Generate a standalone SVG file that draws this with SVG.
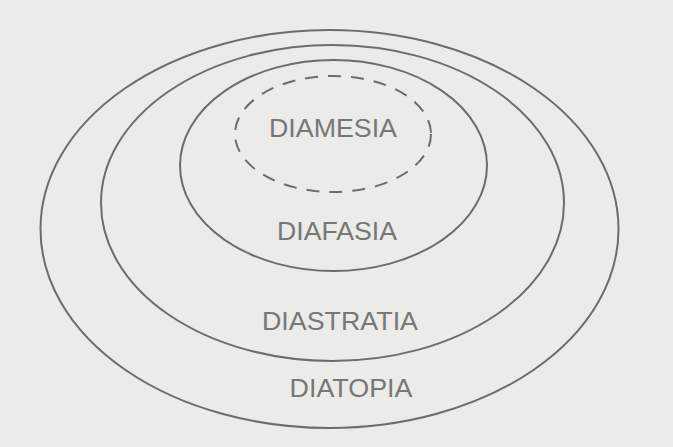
<svg xmlns="http://www.w3.org/2000/svg" width="673" height="447" viewBox="0 0 673 447">
<style>
.ring{fill:none;stroke:#6c6c6c;stroke-width:2}
.dash{fill:none;stroke:#6c6c6c;stroke-width:2;stroke-dasharray:13 10}
.lbl{font-family:"Liberation Sans",Arial,sans-serif;font-size:25px;fill:#777777;text-anchor:middle}
</style>
<rect width="673" height="447" fill="#ebebe9"/>
<g id="diatopia"><ellipse class="ring" cx="329.5" cy="229" rx="289" ry="199"/><text class="lbl" x="351" y="397" textLength="123" lengthAdjust="spacingAndGlyphs">DIATOPIA</text></g>
<g id="diastratia"><ellipse class="ring" cx="332.5" cy="203" rx="231.5" ry="158"/><text class="lbl" x="340" y="330" textLength="156" lengthAdjust="spacingAndGlyphs">DIASTRATIA</text></g>
<g id="diafasia"><ellipse class="ring" cx="333.5" cy="165.5" rx="153.5" ry="105.5"/><text class="lbl" x="337" y="240" textLength="120" lengthAdjust="spacingAndGlyphs">DIAFASIA</text></g>
<g id="diamesia"><ellipse class="dash" cx="333" cy="134" rx="98" ry="58"/><text class="lbl" x="333" y="137" textLength="128" lengthAdjust="spacingAndGlyphs">DIAMESIA</text></g>
<g id="connectors"></g>
</svg>
